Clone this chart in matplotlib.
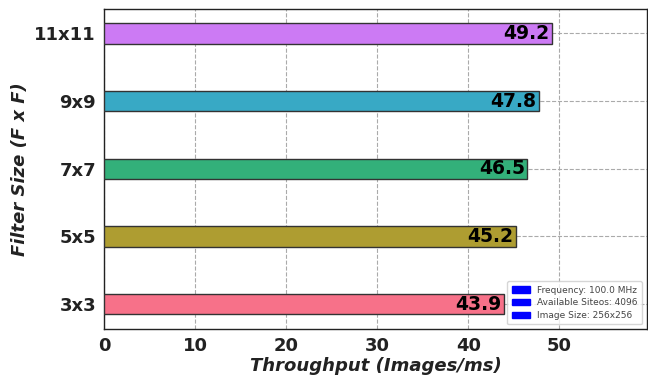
import matplotlib
matplotlib.use("Agg")
import matplotlib.pyplot as plt
import matplotlib.patches as mpatches
import seaborn as sns

filters = ["3x3", "5x5", "7x7", "9x9", "11x11"]
throughput = [43.9, 45.2, 46.5, 47.8, 49.2]
legend_labels = ["Frequency: 100.0 MHz", "Available Siteos: 4096", "Image Size: 256x256"]

colors = sns.color_palette("husl", len(filters))

fig = plt.figure(figsize=(6.48, 3.78), dpi=100)
ax = fig.add_axes([0.161, 0.130, 0.837, 0.847])

ypos = list(range(len(filters)))
bars = ax.barh(ypos, throughput, height=0.3, color=colors, edgecolor="#333333",
               linewidth=1.0, zorder=3)

for b, v in zip(bars, throughput):
    ax.text(v - 0.3, b.get_y() + b.get_height() / 2, f"{v:.1f}", ha="right", va="center",
            fontsize=13.5, fontweight="bold", color="black", zorder=4)

ax.set_yticks(ypos)
ax.set_yticklabels(filters, fontsize=13, fontweight="bold", color="#222222")
ax.set_xticks([0, 10, 20, 30, 40, 50])
ax.set_xticklabels(["0", "10", "20", "30", "40", "50"], fontsize=13, fontweight="bold",
                   color="#222222")
ax.set_xlim(0, 59.6)
ax.tick_params(length=0, pad=6)

ax.set_xlabel("Throughput (Images/ms)", fontsize=13, fontweight="bold", style="italic",
              labelpad=1, color="#222222")
ax.set_ylabel("Filter Size (F x F)", fontsize=13, fontweight="bold", style="italic",
              color="#222222")

ax.grid(True, linestyle="--", color="#aaaaaa", linewidth=0.8, zorder=0)
ax.set_axisbelow(True)
for s in ax.spines.values():
    s.set_color("#222222")
    s.set_linewidth(1.0)

handles = [mpatches.Patch(color="blue", label=l) for l in legend_labels]
ax.legend(handles=handles, loc="lower right", fontsize=6.5, frameon=True,
          handlelength=2.0, handleheight=0.7, borderpad=0.5, labelspacing=0.4,
          labelcolor="#444444")

fig.savefig("out.png", dpi=100)
